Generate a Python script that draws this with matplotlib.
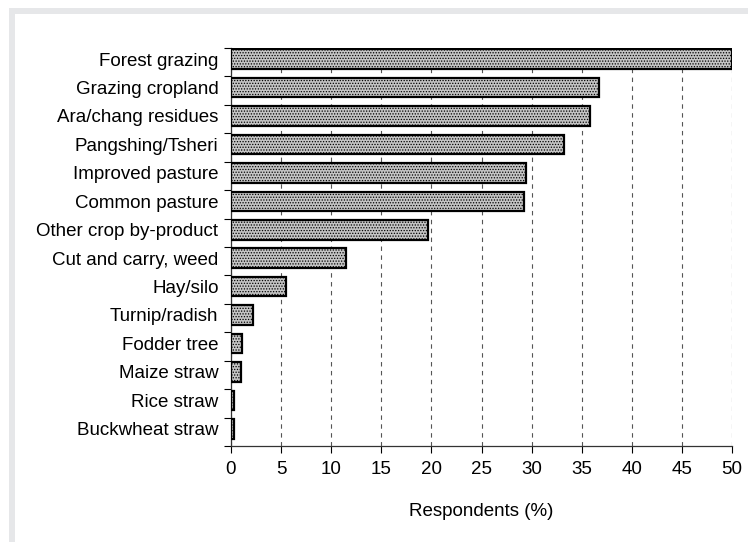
import numpy as np
import matplotlib
matplotlib.use("Agg")
import matplotlib.pyplot as plt
from matplotlib.patches import Rectangle

# data
categories = [
    "Forest grazing", "Grazing cropland", "Ara/chang residues", "Pangshing/Tsheri",
    "Improved pasture", "Common pasture", "Other crop by-product",
    "Cut and carry, weed", "Hay/silo", "Turnip/radish", "Fodder tree",
    "Maize straw", "Rice straw", "Buckwheat straw",
]
values = [50.0, 36.7, 35.8, 33.2, 29.4, 29.2, 19.7, 11.5, 5.5, 2.2, 1.1, 1.0, 0.25, 0.25]
xticks = [0, 5, 10, 15, 20, 25, 30, 35, 40, 45, 50]

plt.rcParams["font.family"] = ["Liberation Sans", "DejaVu Sans"]
plt.rcParams["hatch.color"] = "#7a7a7a"
plt.rcParams["hatch.linewidth"] = 0.6

fig = plt.figure(figsize=(7.48, 5.42), dpi=100)

# light grey frame along top and left
fig.patches.append(Rectangle((9 / 748, 0), 6 / 748, 1 - 8 / 542, transform=fig.transFigure,
                             facecolor="#e6e7e9", edgecolor="none", zorder=0))
fig.patches.append(Rectangle((9 / 748, 1 - 14 / 542), 1, 6 / 542, transform=fig.transFigure,
                             facecolor="#e6e7e9", edgecolor="none", zorder=0))

ax = fig.add_axes([231 / 748, 1 - 446 / 542, (732 - 231) / 748, (446 - 48) / 542])

pos = np.arange(len(categories))
ax.barh(pos + 0.05, values, height=0.69, align="edge", color="#c4c4c4",
        edgecolor="black", linewidth=1.6, hatch="......", zorder=3)

ax.set_ylim(len(categories), 0)
ax.set_xlim(0, 50)

ax.set_yticks(pos + 0.39)
ax.set_yticklabels(categories, fontsize=13.5)
ax.set_yticks(np.arange(len(categories) + 1), minor=True)
ax.tick_params(axis="y", which="major", length=0, pad=9)
ax.tick_params(axis="y", which="minor", length=5, width=0.8, direction="out")

ax.set_xticks(xticks)
ax.set_xticklabels([str(t) for t in xticks], fontsize=13.5)
ax.tick_params(axis="x", length=5, width=0.8, pad=6)
ax.set_xlabel("Respondents (%)", fontsize=13.5, labelpad=18)

ax.grid(axis="x", linestyle=(0, (4, 4)), color="#555555", linewidth=0.8, zorder=0)
ax.set_axisbelow(True)

for s in ["top", "right"]:
    ax.spines[s].set_visible(False)
ax.spines["left"].set_linewidth(0.9)
ax.spines["bottom"].set_linewidth(0.9)
ax.spines["left"].set_color("#333333")
ax.spines["bottom"].set_color("#333333")

fig.savefig("out.png", dpi=100)
